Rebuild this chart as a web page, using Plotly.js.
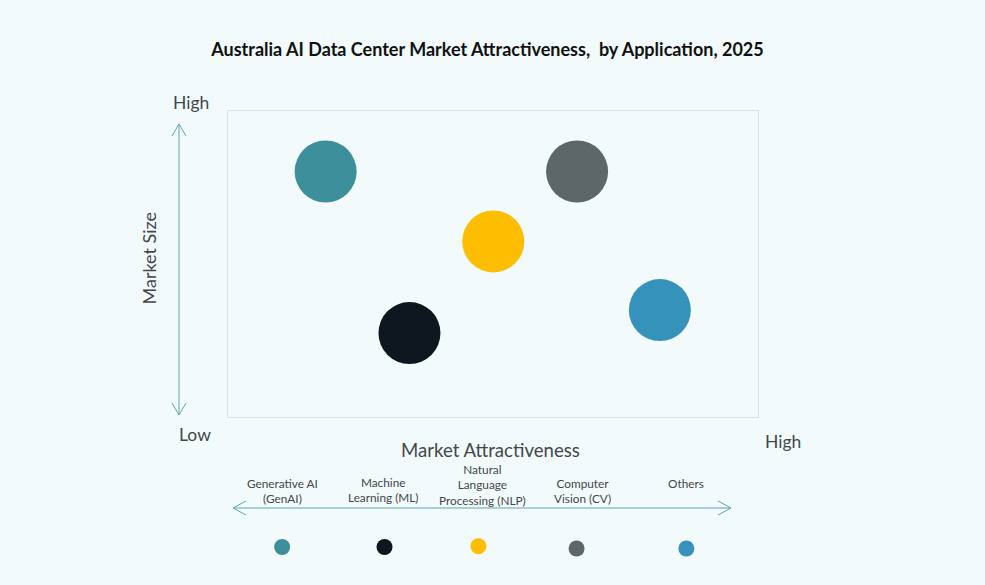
<!DOCTYPE html>
<html><head><meta charset="utf-8">
<script src="https://cdn.plot.ly/plotly-3.0.1.min.js"></script>
<style>html,body{margin:0;padding:0;background:#f2fafb}</style></head>
<body><div id="chart" style="width:985px;height:585px"></div>
<script>
const categories = ["Generative AI (GenAI)","Machine Learning (ML)","Natural Language Processing (NLP)","Computer Vision (CV)","Others"];
const legendLabels = ["Generative AI<br>(GenAI)","Machine<br>Learning (ML)","Natural<br>Language<br>Processing (NLP)","Computer<br>Vision (CV)","Others"];
const attractiveness = [18.5,34.3,50.1,65.9,81.5];
const marketSize = [80.1,27.4,57.3,80.1,34.9];
const colors = ["#3d8f9b","#0e1620","#fdbd00","#5d6768","#3593bb"];
const legendDotX = [10.3,29.6,47.3,65.8,86.5];
const legendDotY = [51.4,51.4,53.5,47.1,47.1];

const FONT = "Lato, 'Open Sans', sans-serif";
const TXT = "#42474a";
const ARROW = "#5fa5b3";
const W=985,H=585;
const L=227.5,R=758,T=110.5,B=417;
const px = x => x/W;
const py = y => (H-y)/H;
const line = (pts,color) => ({type:"path",xref:"paper",yref:"paper",
  path:"M"+pts.map(p=>px(p[0]).toFixed(5)+","+py(p[1]).toFixed(5)).join("L"),
  line:{color:color,width:1}});
const label = (x,y,text,size,extra) => Object.assign({xref:"paper",yref:"paper",x:px(x),y:py(y),
  text:text,showarrow:false,xanchor:"center",yanchor:"middle",font:{family:FONT,size:size,color:TXT}},extra||{});

const traces = [
 {type:"scatter",mode:"markers",x:attractiveness,y:marketSize,text:categories,hoverinfo:"text",
  marker:{size:62,color:colors},showlegend:false},
 {type:"scatter",mode:"markers",x:legendDotX,y:legendDotY,xaxis:"x2",yaxis:"y2",text:categories,hoverinfo:"text",
  marker:{size:16,color:colors},showlegend:false}
];
const axis = {range:[0,100],showgrid:false,zeroline:false,showticklabels:false,ticks:"",
  showline:true,mirror:true,linecolor:"#d6e2e3",linewidth:1,fixedrange:true};
const hidden = {range:[0,100],visible:false,fixedrange:true};
const layout = {
 width:W,height:H,margin:{l:0,r:0,t:0,b:0,autoexpand:false},
 paper_bgcolor:"#f2fafb",plot_bgcolor:"#f2fafb",
 title:{text:"<b>Australia AI Data Center Market Attractiveness,  by Application, 2025</b>",
   x:487.5/W,xanchor:"center",y:1-50/H,yanchor:"middle",font:{family:FONT,size:18,color:"#111"}},
 xaxis:Object.assign({},axis,{domain:[px(L),px(R)]}),
 yaxis:Object.assign({},axis,{domain:[py(B),py(T)]}),
 xaxis2:Object.assign({},hidden,{domain:[px(L),px(R)],anchor:"y2"}),
 yaxis2:Object.assign({},hidden,{domain:[py(565),py(530)],anchor:"x2"}),
 showlegend:false,
 shapes:[
  line([[179,124],[179,415]],ARROW),
  line([[172,136],[179,124],[186,136]],ARROW),
  line([[172,403],[179,415],[186,403]],ARROW),
  line([[233,508],[731,508]],ARROW),
  line([[246,501],[233,508],[246,515]],ARROW),
  line([[718,501],[731,508],[718,515]],ARROW)
 ],
 annotations:[
  label(190.5,102,"High",17.5),
  label(194.5,434,"Low",17.5),
  label(783,441.5,"High",17.5),
  label(490,450,"Market Attractiveness",18.6),
  label(148.5,258,"Market Size",18,{textangle:-90}),
  label(282,490.5,legendLabels[0],11.8),
  label(383,490,legendLabels[1],11.8),
  label(482,485,legendLabels[2],11.8),
  label(582,491,legendLabels[3],11.8),
  label(686,483.5,legendLabels[4],11.8)
 ]
};
Plotly.newPlot("chart",traces,layout,{displayModeBar:false});
</script></body></html>
